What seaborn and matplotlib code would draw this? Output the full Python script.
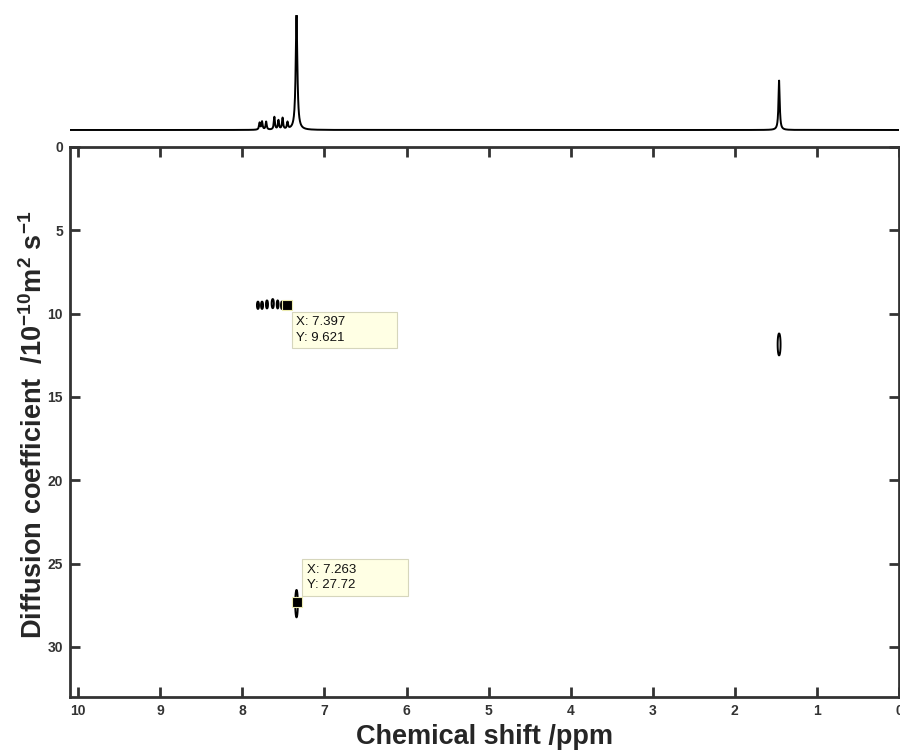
import numpy as np
import pandas as pd
import seaborn as sns
import matplotlib.pyplot as plt

# 1D projection peaks (ppm, relative height, half width ppm)
spec_ppm = [7.79, 7.76, 7.71, 7.61, 7.56, 7.51, 7.45, 7.34, 1.46]
spec_height = [0.06, 0.07, 0.07, 0.11, 0.08, 0.10, 0.06, 1.00, 0.43]
spec_width = [0.008, 0.008, 0.008, 0.008, 0.008, 0.008, 0.008, 0.012, 0.009]

# DOSY cross peaks (ppm, D, ppm width, D width)
dosy_ppm = [7.81, 7.76, 7.70, 7.63, 7.57, 7.52, 7.34, 1.46]
dosy_D = [9.5, 9.5, 9.45, 9.4, 9.45, 9.5, 27.4, 11.85]
dosy_wppm = [0.011, 0.011, 0.011, 0.012, 0.010, 0.008, 0.014, 0.016]
dosy_wD = [0.2, 0.2, 0.22, 0.25, 0.22, 0.2, 0.75, 0.6]

# data tips: marker position and the values shown in the tip
tip_x = [7.46, 7.34]
tip_y = [9.46, 27.3]
tip_labels = ["X: 7.397\nY: 9.621", "X: 7.263\nY: 27.72"]

sns.set_style("ticks")
plt.rcParams['font.family'] = ['Liberation Sans', 'DejaVu Sans']
plt.rcParams['mathtext.fontset'] = 'custom'
plt.rcParams['mathtext.rm'] = 'Liberation Sans:bold'
plt.rcParams['mathtext.bf'] = 'Liberation Sans:bold'

fig = plt.figure(figsize=(9, 7.51), dpi=100)
ax_top = fig.add_axes([0.0778, 0.8136, 0.921, 0.1664])
ax = fig.add_axes([0.0778, 0.0719, 0.921, 0.7325])

# 1D spectrum
ppm = np.linspace(0, 10.1, 6000)
intens = np.zeros_like(ppm)
for p, h, w in zip(spec_ppm, spec_height, spec_width):
    intens += h * w**2 / ((ppm - p)**2 + w**2)
spec = pd.DataFrame({"ppm": ppm, "I": intens})
sns.lineplot(data=spec, x="ppm", y="I", ax=ax_top, color="black", lw=1.4)
ax_top.set_xlim(10.1, 0)
ax_top.set_ylim(-10 / 115, 1.0)
ax_top.axis("off")

# DOSY contour map
gx = np.linspace(0, 10.1, 3000)
gy = np.linspace(0, 33, 1200)
X, Y = np.meshgrid(gx, gy)
Z = np.zeros_like(X)
for p, d, wp, wd in zip(dosy_ppm, dosy_D, dosy_wppm, dosy_wD):
    Z += np.exp(-((X - p) / wp)**2 - ((Y - d) / wd)**2)
ax.contour(X, Y, Z, levels=[0.3], colors="black", linewidths=1.4)

tips = pd.DataFrame({"x": tip_x, "y": tip_y})
sns.scatterplot(data=tips, x="x", y="y", ax=ax, marker="s", s=60,
                color="black", edgecolor="#ecebb0", linewidth=0.8, zorder=5)
for x, y, txt in zip(tip_x, tip_y, tip_labels):
    lines = [l + " " * 13 for l in txt.split("\n")]
    if y < 20:
        off, va = (7, -8.4), "top"
    else:
        off, va = (7.5, 7.6), "bottom"
    ax.annotate("\n".join(lines), (x, y), xytext=off,
                textcoords="offset points", va=va, ha="left", fontsize=9.5,
                linespacing=1.4, color="#111111",
                bbox=dict(boxstyle="square,pad=0.35", fc="#ffffe4", ec="#d6d6bc", lw=0.8),
                zorder=6)

ax.set_xlim(10.1, 0)
ax.set_ylim(33, 0)
ax.set_xticks(range(10, -1, -1))
ax.set_yticks([0, 5, 10, 15, 20, 25, 30])
ax.tick_params(direction="in", length=7, width=2, top=True, right=True,
               labelsize=10, color="#333333", pad=5)
for lab in ax.get_xticklabels() + ax.get_yticklabels():
    lab.set_fontweight("bold")
    lab.set_color("#333333")
for s in ax.spines.values():
    s.set_visible(True)
    s.set_linewidth(2)
    s.set_color("#333333")
ax.set_xlabel("Chemical shift /ppm", fontsize=19.5, fontweight="bold", labelpad=4)
ax.set_ylabel("Diffusion coefficient  /10$^{\\mathbf{-10}}$m$^{\\mathbf{2}}$ s$^{\\mathbf{-1}}$",
              fontsize=19.5, fontweight="bold")
ax.yaxis.set_label_coords(-0.026, 0.495)

fig.savefig("out.png", dpi=100)
